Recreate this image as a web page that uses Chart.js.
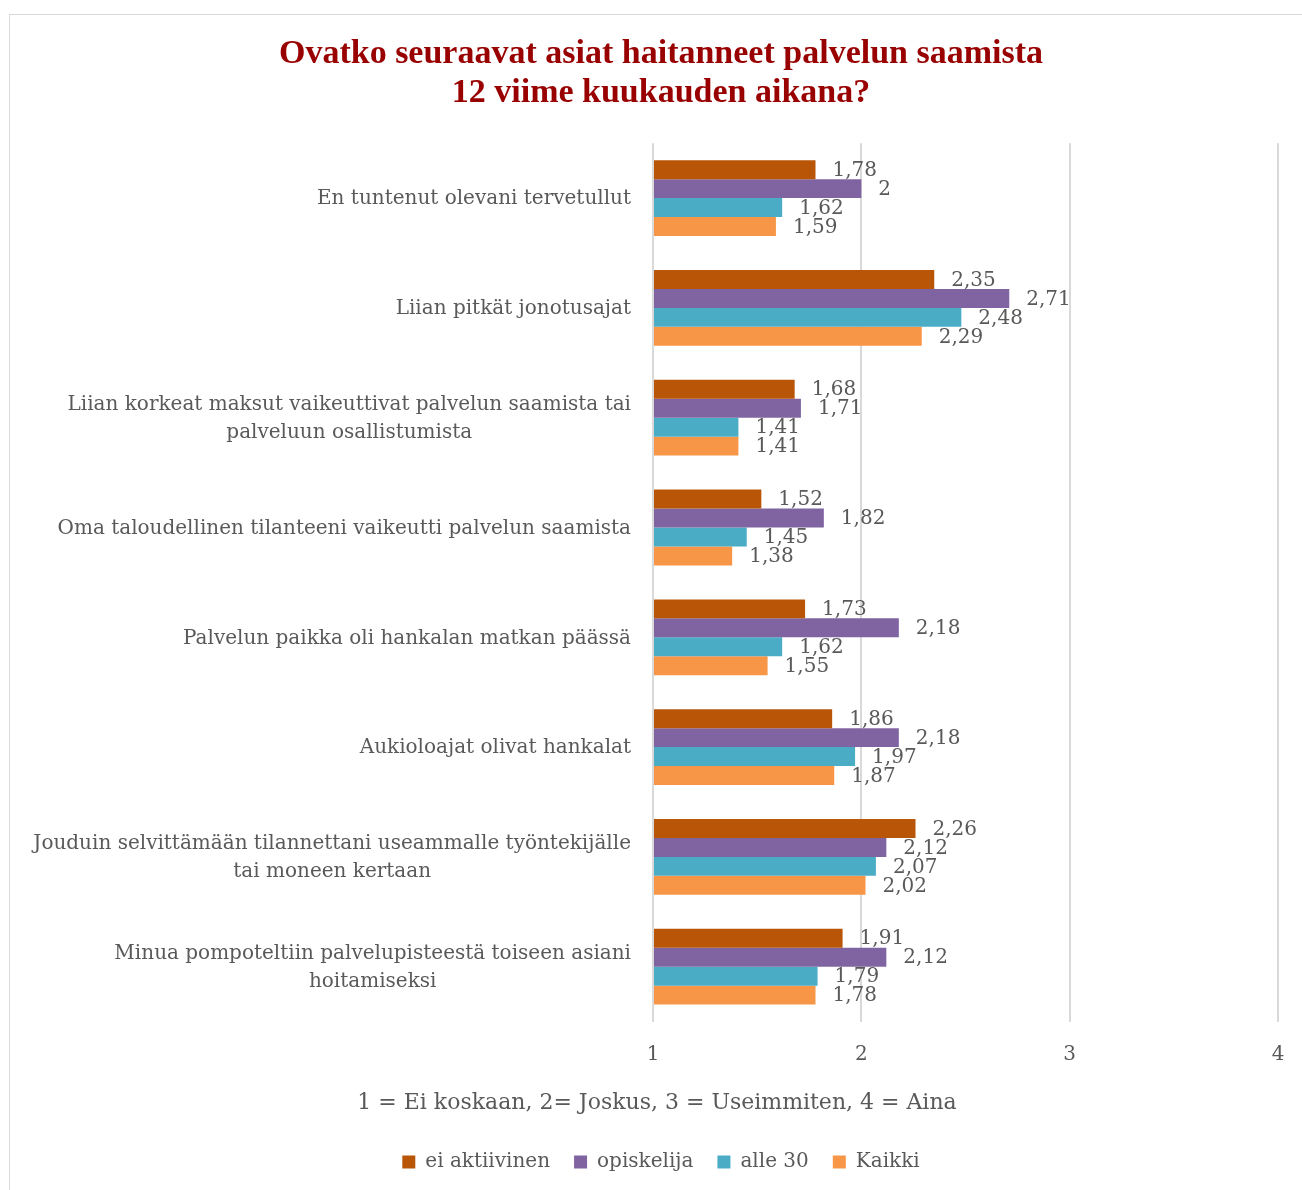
<!DOCTYPE html>
<html>
<head>
<meta charset="utf-8">
<script src="https://cdn.jsdelivr.net/npm/chart.js@4"></script>
<style>
    html, body { margin: 0; padding: 0; background: #fff; overflow: hidden; }
    #frame {
        position: absolute; left: 9px; top: 14px; width: 1400px; height: 1300px;
        border-left: 1px solid #d9d9d9; border-top: 1px solid #d9d9d9;
    }
    #wrap { position: absolute; left: 0; top: 0; width: 1302px; height: 1190px; }
</style>
</head>
<body>
<div id="frame"></div>
<div id="wrap"><canvas id="chart"></canvas></div>
<script>
// categories (multi-line where the original wraps)
const categories = [
    'En tuntenut olevani tervetullut',
    'Liian pitkät jonotusajat',
    ['Liian korkeat maksut vaikeuttivat palvelun saamista tai', 'palveluun osallistumista'],
    'Oma taloudellinen tilanteeni vaikeutti palvelun saamista',
    'Palvelun paikka oli hankalan matkan päässä',
    'Aukioloajat olivat hankalat',
    ['Jouduin selvittämään tilannettani useammalle työntekijälle', 'tai moneen kertaan'],
    ['Minua pompoteltiin palvelupisteestä toiseen asiani', 'hoitamiseksi']
];

const seriesNames = ['ei aktiivinen', 'opiskelija', 'alle 30', 'Kaikki'];
const seriesColors = ['#B85507', '#8064A2', '#4BACC6', '#F79646'];

const eiAktiivinen = [1.78, 2.35, 1.68, 1.52, 1.73, 1.86, 2.26, 1.91];
const opiskelija   = [2.00, 2.71, 1.71, 1.82, 2.18, 2.18, 2.12, 2.12];
const alle30       = [1.62, 2.48, 1.41, 1.45, 1.62, 1.97, 2.07, 1.79];
const kaikki       = [1.59, 2.29, 1.41, 1.38, 1.55, 1.87, 2.02, 1.78];

const xTicks = [1, 2, 3, 4];

const titleLines = ['Ovatko seuraavat asiat haitanneet palvelun saamista', '12 viime kuukauden aikana?'];
const axisTitle = '1 = Ei koskaan, 2= Joskus, 3 = Useimmiten, 4 = Aina';

const SERIF = "'DejaVu Serif', 'Liberation Serif', serif";
const TITLE_FONT = "'Liberation Serif', serif";
const GRAY = '#595959';

const fmt = v => String(Math.round(v * 100) / 100).replace('.', ',');

// value labels, category labels (centred lines, right-aligned block) and axis title
const extraText = {
    id: 'extraText',
    afterDatasetsDraw(chart) {
        const ctx = chart.ctx;
        ctx.save();
        ctx.fillStyle = GRAY;
        ctx.textBaseline = 'middle';

        ctx.font = '20px ' + SERIF;
        ctx.textAlign = 'left';
        chart.data.datasets.forEach((ds, i) => {
            chart.getDatasetMeta(i).data.forEach((bar, j) => {
                ctx.fillText(fmt(ds.data[j]), bar.x + 17, bar.y + 1);
            });
        });

        const yScale = chart.scales.y;
        const right = chart.chartArea.left - 22;
        const lh = 28;
        ctx.font = '20px ' + SERIF;
        ctx.textAlign = 'center';
        chart.data.labels.forEach((lab, j) => {
            const lines = Array.isArray(lab) ? lab : [lab];
            const w = Math.max(...lines.map(l => ctx.measureText(l).width));
            const cx = right - w / 2;
            const cy = yScale.getPixelForValue(j) + 1;
            lines.forEach((l, k) => {
                ctx.fillText(l, cx, cy + (k - (lines.length - 1) / 2) * lh);
            });
        });

        const xScale = chart.scales.x;
        ctx.font = '22px ' + SERIF;
        ctx.fillText(axisTitle, 657, xScale.bottom - 25);
        ctx.restore();
    }
};

const allSeries = [eiAktiivinen, opiskelija, alle30, kaikki];

new Chart(document.getElementById('chart'), {
    type: 'bar',
    data: {
        labels: categories,
        datasets: allSeries.map((vals, i) => ({
            label: seriesNames[i],
            data: vals,
            base: 1,
            backgroundColor: seriesColors[i],
            borderWidth: 0,
            categoryPercentage: 0.69,
            barPercentage: 1.0
        }))
    },
    options: {
        indexAxis: 'y',
        responsive: true,
        maintainAspectRatio: false,
        animation: false,
        layout: { padding: { top: 0, right: 0, bottom: 8, left: 20 } },
        plugins: {
            title: {
                display: true,
                text: titleLines,
                color: '#990000',
                font: { family: TITLE_FONT, size: 34, weight: 'bold', lineHeight: 1.15 },
                padding: { top: 35, bottom: 30 }
            },
            legend: {
                position: 'bottom',
                labels: {
                    color: GRAY,
                    font: { family: SERIF, size: 20 },
                    boxWidth: 13,
                    boxHeight: 13,
                    padding: 24
                }
            },
            tooltip: { enabled: false }
        },
        scales: {
            x: {
                min: 1,
                max: 4,
                afterBuildTicks: scale => { scale.ticks = xTicks.map(v => ({ value: v })); },
                // tick padding would otherwise be reserved on the right too
                afterFit: scale => { scale.paddingRight = 0; scale.paddingLeft = 0; },
                grid: { color: '#d9d9d9', lineWidth: 2, drawTicks: false },
                border: { display: false },
                ticks: {
                    color: GRAY,
                    font: { family: SERIF, size: 20 },
                    padding: 21
                },
                title: {
                    display: true,
                    text: axisTitle,
                    color: 'rgba(0,0,0,0)',
                    font: { family: SERIF, size: 22 },
                    padding: { top: 10, bottom: 4 }
                }
            },
            y: {
                afterFit: scale => { scale.width = 633; },
                grid: { display: false, drawTicks: false },
                border: { display: false },
                ticks: { display: false }
            },
            // empty right-hand strip so the plot ends at the "4" gridline
            yRight: {
                type: 'category',
                position: 'right',
                afterFit: scale => { scale.width = 24; },
                grid: { display: false, drawTicks: false },
                border: { display: false },
                ticks: { display: false }
            }
        }
    },
    plugins: [extraText]
});
</script>
</body>
</html>
